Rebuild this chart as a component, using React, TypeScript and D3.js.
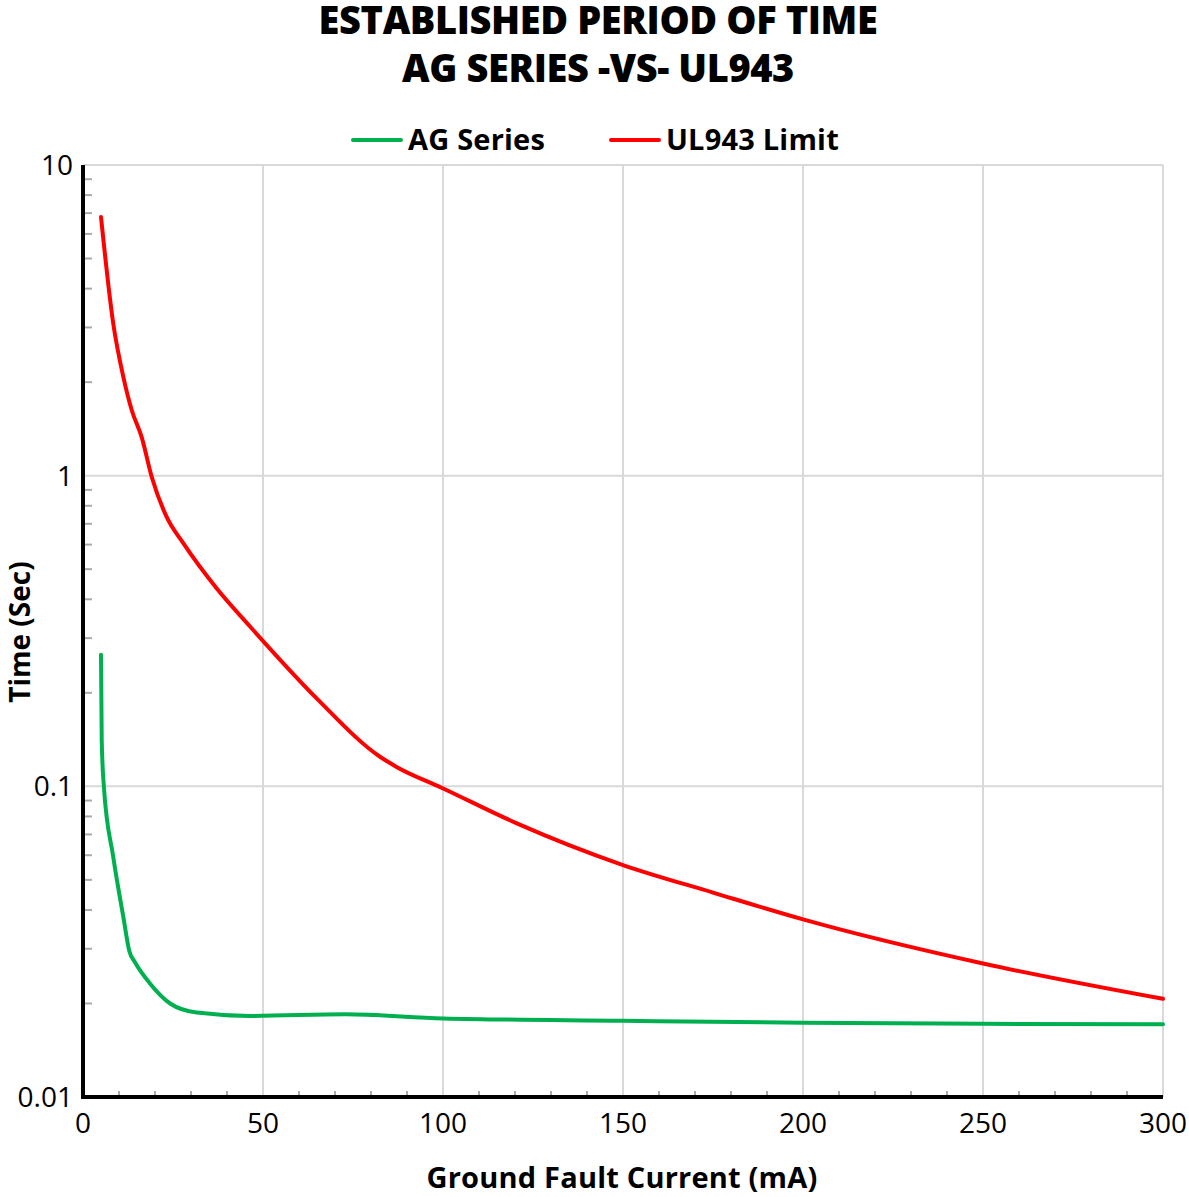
//@ts-nocheck
import * as d3 from "d3";
import React, { useEffect, useRef } from "react";

// Ground fault current (mA) and trip time (sec)
const agCurrent = [5, 5.2, 5.8, 8.4, 11.2, 12.9, 14.4, 18.6, 24.2, 31.6, 46.4, 73, 100, 150, 200, 250, 300];
const agTime = [0.265, 0.141, 0.0997, 0.0593, 0.038, 0.0294, 0.0272, 0.0232, 0.02, 0.0187, 0.01824, 0.01846, 0.0179, 0.0176, 0.01734, 0.0172, 0.01714];

const ulCurrent = [5, 8.4, 11.2, 13.5, 16.3, 19.1, 23.2, 27.9, 37.1, 46.4, 64.9, 82.5, 87.1, 99.6, 120.5, 150, 175, 200, 250, 300];
const ulTime = [6.8, 3.09, 2.08, 1.63, 1.33, 0.99, 0.738, 0.605, 0.434, 0.327, 0.192, 0.1245, 0.1155, 0.099, 0.076, 0.0558, 0.0455, 0.0373, 0.0269, 0.0207];

const xTicks = [0, 50, 100, 150, 200, 250, 300];
const yTicks = [0.01, 0.1, 1, 10];
const yTickLabels = ["0.01", "0.1", "1", "10"];

const titleLines = ["ESTABLISHED PERIOD OF TIME", "AG SERIES -VS- UL943"];
const seriesNames = ["AG Series", "UL943 Limit"];
const seriesColors = ["#00b050", "#ff0000"];

const W = 1189;
const H = 1197;
const FONT = "'Open Sans', 'Noto Sans', sans-serif";

const chart = () => {
  const x = d3.scaleLinear().domain([0, 300]).range([83, 1163]);
  const y = d3.scaleLog().domain([0.01, 10]).range([1097, 165]);

  const svg = d3
    .create("svg")
    .attr("width", W)
    .attr("height", H)
    .attr("viewBox", [0, 0, W, H])
    .attr("style", `position:absolute;left:0;top:0;background:#fff;font-family:${FONT};`);

  // title
  svg
    .append("g")
    .selectAll("text")
    .data(titleLines)
    .join("text")
    .attr("x", 598)
    .attr("y", (d, i) => 34 + i * 48)
    .attr("text-anchor", "middle")
    .attr("font-size", 38)
    .attr("font-weight", 800)
    .attr("letter-spacing", -0.4)
    .text((d) => d);

  // legend
  const legendX = [353, 611];
  const lg = svg
    .append("g")
    .selectAll("g")
    .data(seriesNames)
    .join("g")
    .attr("transform", (d, i) => `translate(${legendX[i]},140)`);
  lg.append("line")
    .attr("x1", 0)
    .attr("x2", 48)
    .attr("stroke", (d, i) => seriesColors[i])
    .attr("stroke-width", 4)
    .attr("stroke-linecap", "round");
  lg.append("text")
    .attr("x", 55)
    .attr("y", 10)
    .attr("font-size", 29)
    .attr("font-weight", 700)
    .attr("letter-spacing", 0.2)
    .text((d) => d);

  // grid
  const grid = svg.append("g").attr("stroke", "#d9d9d9").attr("stroke-width", 2);
  grid
    .selectAll("line.v")
    .data(xTicks.slice(1))
    .join("line")
    .attr("x1", (d) => x(d))
    .attr("x2", (d) => x(d))
    .attr("y1", y(10))
    .attr("y2", y(0.01));
  grid
    .selectAll("line.h")
    .data(yTicks.slice(1))
    .join("line")
    .attr("class", "h")
    .attr("x1", x(0))
    .attr("x2", x(300))
    .attr("y1", (d) => y(d))
    .attr("y2", (d) => y(d));

  // minor ticks
  const minorY = y.ticks().filter((d) => !yTicks.includes(d));
  svg
    .append("g")
    .attr("stroke", "#aaa")
    .attr("stroke-width", 2)
    .selectAll("line")
    .data(minorY)
    .join("line")
    .attr("x1", x(0))
    .attr("x2", x(0) + 9)
    .attr("y1", (d) => y(d))
    .attr("y2", (d) => y(d));
  const minorX = d3.range(10, 300, 10).filter((d) => d % 50 !== 0);
  svg
    .append("g")
    .attr("stroke", "#aaa")
    .attr("stroke-width", 2)
    .selectAll("line")
    .data(minorX)
    .join("line")
    .attr("x1", (d) => x(d))
    .attr("x2", (d) => x(d))
    .attr("y1", y(0.01))
    .attr("y2", y(0.01) - 6);

  // axes
  svg
    .append("path")
    .attr("d", `M${x(0)},${y(10)}V${y(0.01)}H${x(300)}`)
    .attr("fill", "none")
    .attr("stroke", "#000")
    .attr("stroke-width", 4);

  svg
    .append("g")
    .selectAll("text")
    .data(xTicks)
    .join("text")
    .attr("x", (d) => x(d))
    .attr("y", 1133)
    .attr("text-anchor", "middle")
    .attr("font-size", 28)
    .text((d) => d);

  svg
    .append("g")
    .selectAll("text")
    .data(yTicks)
    .join("text")
    .attr("x", 73)
    .attr("y", (d) => y(d) + 10)
    .attr("text-anchor", "end")
    .attr("font-size", 28)
    .text((d, i) => yTickLabels[i]);

  svg
    .append("text")
    .attr("x", 622)
    .attr("y", 1188)
    .attr("text-anchor", "middle")
    .attr("font-size", 29)
    .attr("font-weight", 700)
    .attr("letter-spacing", 0.2)
    .text("Ground Fault Current (mA)");

  svg
    .append("text")
    .attr("transform", "translate(30,632) rotate(-90)")
    .attr("text-anchor", "middle")
    .attr("font-size", 28)
    .attr("font-weight", 700)
    .text("Time (Sec)");

  // curves
  const line = d3
    .line()
    .curve(d3.curveMonotoneX)
    .x((d) => x(d[0]))
    .y((d) => y(d[1]));

  const series = [
    d3.zip(agCurrent, agTime),
    d3.zip(ulCurrent, ulTime),
  ];

  svg
    .append("g")
    .selectAll("path")
    .data(series)
    .join("path")
    .attr("d", line)
    .attr("fill", "none")
    .attr("stroke", (d, i) => seriesColors[i])
    .attr("stroke-width", 4)
    .attr("stroke-linecap", "round")
    .attr("stroke-linejoin", "round");

  return svg.node();
};

export default function App() {
  const holderRef = useRef<HTMLDivElement | null>(null);

  useEffect(() => {
    const holder = holderRef.current;
    if (!holder || holder.hasChildNodes()) return;
    holder.appendChild(chart());
  }, []);

  return <div ref={holderRef}></div>;
}
